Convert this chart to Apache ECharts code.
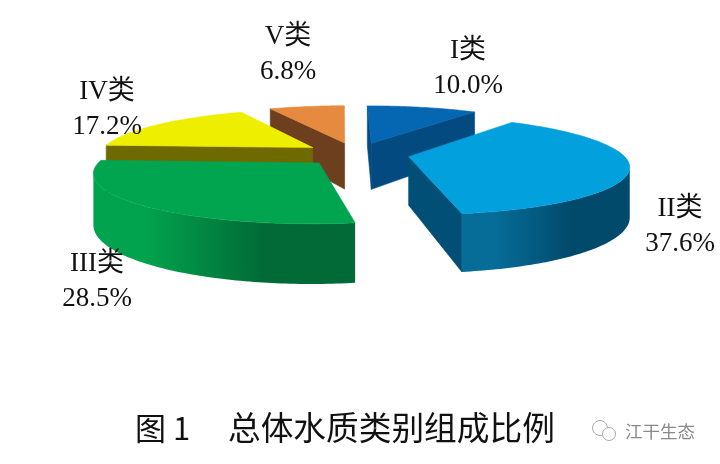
<!DOCTYPE html>
<html><head><meta charset="utf-8">
<style>html,body{margin:0;padding:0;background:#fff}#c{width:720px;height:464px}</style>
<script src="https://cdn.jsdelivr.net/npm/echarts@6/dist/echarts.min.js"></script>
</head><body><div id="c"></div>
<script>
const categories = ['I类','II类','III类','IV类','V类'];
const shares = [10.0,37.6,28.5,17.2,6.8];
const shareLabels = ['10.0%','37.6%','28.5%','17.2%','6.8%'];
const topColors = ['#0567b1','#02a0dd','#01a550','#eeee00','#e68a40'];
const wallColors = ['#024a80','#014f76','#018a40','#6f6a00','#6d3f1e'];
const arcLight = ['#024a80','#066c98','#02a34e','#6f6a00','#6d3f1e'];
const arcDark = ['#024a80','#014a6c','#016a36','#6f6a00','#6d3f1e'];
const labelCentres = [[468,68],[680,226],[97,281],[107,109],[288,54]];
const title = '总体水质类别组成比例';

const CX=356, CY=154, RX=214, RY=47, PERSP=0.17, DEPTH=48, EXPLODE=0.25, START=-0.6;
const total = shares.reduce((a,b)=>a+b,0);
const rad = d=>d*Math.PI/180;
function proj(X,Z,down){
  const s = 1/(1-PERSP*Z);
  return [CX+RX*X*s, CY+RY*Z*s+(down?DEPTH*s:0)];
}
function renderSlice(params, api){
  const i = params.dataIndex;
  let before = 0; for(let k=0;k<i;k++) before += shares[k];
  const a0 = START+before/total*360, a1 = a0+api.value(0)/total*360, mid=(a0+a1)/2;
  const ex = EXPLODE*Math.sin(rad(mid)), ez = -EXPLODE*Math.cos(rad(mid));
  const world = a=> a===null ? [ex,ez] : [ex+Math.sin(rad(a)), ez-Math.cos(rad(a))];
  const P = (a,d)=>{const w=world(a);return proj(w[0],w[1],d);};
  const arc=[]; const n=Math.ceil(a1-a0);
  for(let k=0;k<=n;k++) arc.push(a0+(a1-a0)*k/n);
  const children=[];
  const poly=(points,fill,z)=>children.push({type:'polygon',shape:{points},
    style:{fill,stroke:typeof fill==='string'?fill:'none',lineWidth:0.6},z2:z});
  const quad=(a,b)=>[P(a,false),P(b,false),P(b,true),P(a,true)];
  const depthRank = Math.round((ez+1)*100);
  if(P(a0,false)[0]<P(null,false)[0]) poly(quad(null,a0),wallColors[i],depthRank+1);
  if(P(null,false)[0]<P(a1,false)[0]) poly(quad(a1,null),wallColors[i],depthRank+1);
  let run=[];
  const flush=()=>{
    if(run.length>1){
      const pts=run.map(a=>P(a,false)).concat(run.slice().reverse().map(a=>P(a,true)));
      poly(pts,{type:'linear',x:0,y:0,x2:1,y2:0,colorStops:[
        {offset:0,color:arcLight[i]},{offset:0.2,color:arcLight[i]},{offset:0.65,color:arcDark[i]},{offset:1,color:arcDark[i]}]},depthRank+2);
    }
    run=[];
  };
  for(let k=0;k<arc.length-1;k++){
    if(P(arc[k+1],false)[0]<P(arc[k],false)[0]){ if(!run.length) run.push(arc[k]); run.push(arc[k+1]); }
    else flush();
  }
  flush();
  poly([P(null,false)].concat(arc.map(a=>P(a,false))),topColors[i],depthRank+3);
  return {type:'group',children};
}
const serif='"Liberation Serif","Noto Sans CJK SC",serif';
const labelEls = categories.map((c,i)=>({type:'text',z:50,style:{
  x:labelCentres[i][0],y:labelCentres[i][1],text:c+'\n'+shareLabels[i],
  font:'27px '+serif,lineHeight:35,fill:'#111',textAlign:'center',textVerticalAlign:'middle'}}));
const chart=echarts.init(document.getElementById('c'),null,{renderer:'canvas'});
chart.setOption({animation:false,backgroundColor:'#fff',
  series:[{type:'custom',coordinateSystem:'none',renderItem:renderSlice,
    data:shares.map(v=>[v]),silent:true}],
  graphic:labelEls.concat([
    {type:'text',z:50,style:{x:135,y:428,text:'图 1',font:'31px "Noto Sans CJK SC"',fill:'#111',textVerticalAlign:'middle'}},
    {type:'text',z:50,style:{x:228,y:428,text:title,font:'32.7px "Noto Sans CJK SC"',fill:'#111',textVerticalAlign:'middle'}},
    {type:'text',z:50,style:{x:625,y:431,text:'江干生态',font:'17.5px "Noto Sans CJK SC"',fill:'#8a8a8a',textVerticalAlign:'middle'}},
    {type:'circle',z:50,shape:{cx:600,cy:428,r:7.5},style:{fill:'none',stroke:'#aaa',lineWidth:1}},
    {type:'circle',z:50,shape:{cx:609,cy:434,r:6.5},style:{fill:'#fff',stroke:'#aaa',lineWidth:1}}
  ])
});
</script></body></html>
